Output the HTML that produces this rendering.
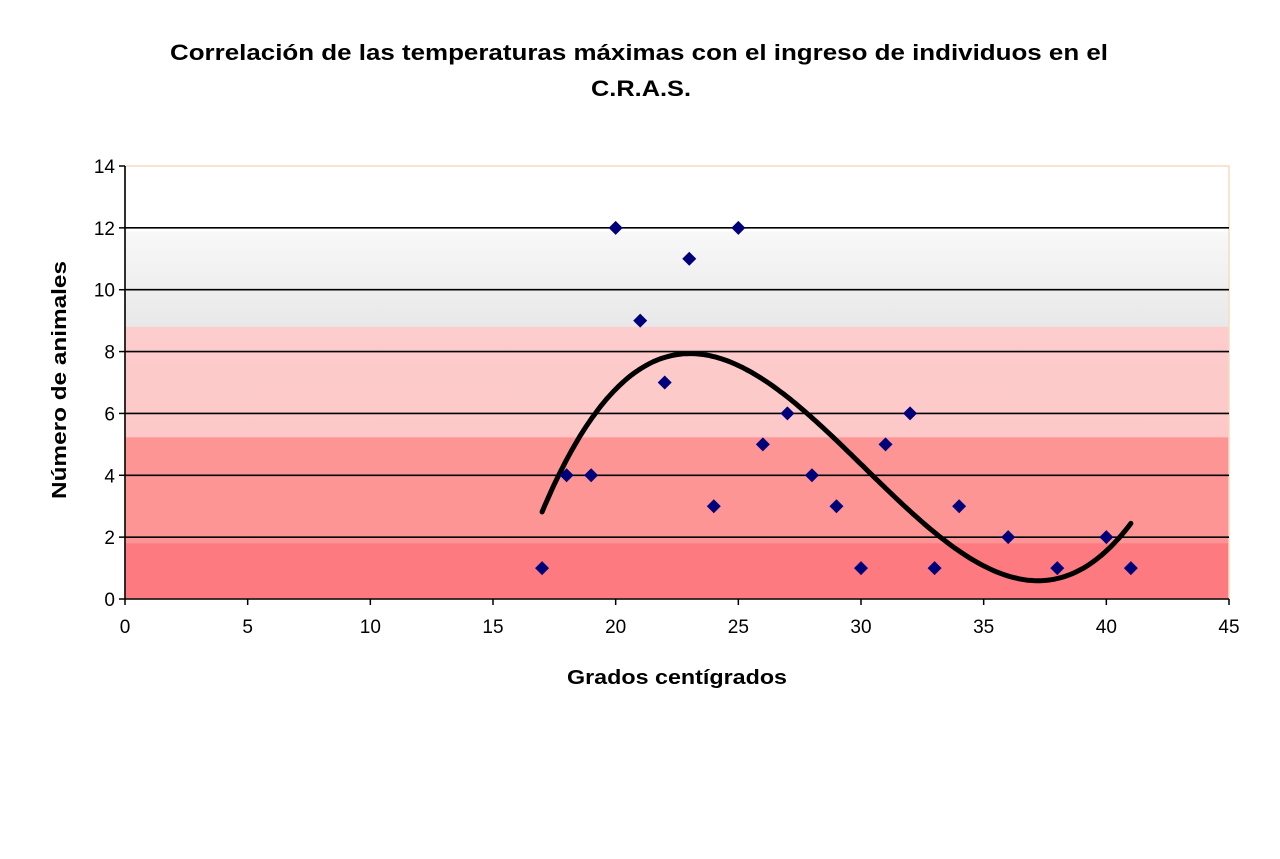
<!DOCTYPE html>
<html><head><meta charset="utf-8"><style>
body{margin:0;background:#fff;width:1280px;height:854px;overflow:hidden}
text{font-family:"Liberation Sans",sans-serif}
</style></head><body>
<svg id="chart" width="1280" height="854" xmlns="http://www.w3.org/2000/svg">
<defs><linearGradient id="bg" x1="0" y1="0" x2="0" y2="1">
<stop offset="0" stop-color="#ffffff"/><stop offset="0.15" stop-color="#ffffff"/>
<stop offset="0.153" stop-color="#f8f8f8"/><stop offset="0.37" stop-color="#e8e8e8"/>
<stop offset="0.373" stop-color="#fdcccc"/><stop offset="0.625" stop-color="#fdc8c8"/>
<stop offset="0.628" stop-color="#fd9595"/><stop offset="0.87" stop-color="#fd9595"/>
<stop offset="0.873" stop-color="#fc7a80"/><stop offset="1" stop-color="#fc7a80"/>
</linearGradient></defs>
<text x="170" y="60" textLength="938" lengthAdjust="spacingAndGlyphs" font-size="22" font-weight="bold">Correlación de las temperaturas máximas con el ingreso de individuos en el</text>
<text x="591" y="96" textLength="100" lengthAdjust="spacingAndGlyphs" font-size="22" font-weight="bold">C.R.A.S.</text>
<rect x="125" y="166" width="1104" height="433" fill="url(#bg)" stroke="#f5dcc0" stroke-width="1.5"/>
<g id="grid"></g><g id="axes"></g><g id="trend"></g><g id="points"></g>
<text x="567" y="684" textLength="220" lengthAdjust="spacingAndGlyphs" font-size="20" font-weight="bold">Grados centígrados</text>
<text transform="translate(66,380) rotate(-90)" text-anchor="middle" textLength="238" lengthAdjust="spacingAndGlyphs" font-size="20" font-weight="bold">Número de animales</text>
</svg>
<script>
const temps=[17,18,19,20,21,22,23,24,25,26,27,28,29,30,31,32,33,34,36,38,40,41];
const counts=[1,4,4,12,9,7,11,3,12,5,6,4,3,1,5,6,1,3,2,1,2,1];
const xTicks=[0,5,10,15,20,25,30,35,40,45];
const yTicks=[0,2,4,6,8,10,12,14];
const X0=125,X1=1229,Y0=599,Y1=166,XMAX=45,YMAX=14;
const sx=v=>X0+(X1-X0)*v/XMAX, sy=v=>Y0-(Y0-Y1)*v/YMAX;
const NS="http://www.w3.org/2000/svg";
function mk(t,a,p){const e=document.createElementNS(NS,t);for(const k in a)e.setAttribute(k,a[k]);p.appendChild(e);return e;}
const grid=document.getElementById('grid'),axes=document.getElementById('axes');
yTicks.forEach(v=>{
 if(v>0&&v<YMAX){const l=mk('line',{x1:X0,x2:X1,y1:sy(v),y2:sy(v),stroke:'#000','stroke-width':1.6},grid);
 }
 const tk=mk('line',{x1:X0-6,x2:X0,y1:sy(v),y2:sy(v),stroke:'#000','stroke-width':1.5},axes);
 
 const t=mk('text',{x:X0-10,y:sy(v)+7,'text-anchor':'end','font-size':19},axes);t.textContent=v;
 
});
xTicks.forEach(v=>{
 const tk=mk('line',{x1:sx(v),x2:sx(v),y1:Y0,y2:Y0+6,stroke:'#000','stroke-width':1.5},axes);
 
 const t=mk('text',{x:sx(v),y:Y0+34,'text-anchor':'middle','font-size':19},axes);t.textContent=v;
 
});
const ya=mk('line',{x1:X0,x2:X0,y1:Y1,y2:Y0,stroke:'#000','stroke-width':1.6},axes);

const xa=mk('line',{x1:X0,x2:X1,y1:Y0,y2:Y0,stroke:'#000','stroke-width':1.6},axes);

const n=4,A=[],B=[];
for(let i=0;i<n;i++){A.push([]);for(let j=0;j<n;j++){let s=0;temps.forEach(x=>s+=Math.pow(x,i+j));A[i].push(s);}let s=0;temps.forEach((x,k)=>s+=Math.pow(x,i)*counts[k]);B.push(s);}
for(let i=0;i<n;i++){let p=i;for(let r=i+1;r<n;r++)if(Math.abs(A[r][i])>Math.abs(A[p][i]))p=r;[A[i],A[p]]=[A[p],A[i]];[B[i],B[p]]=[B[p],B[i]];
 for(let r=0;r<n;r++){if(r===i)continue;const f=A[r][i]/A[i][i];for(let c=i;c<n;c++)A[r][c]-=f*A[i][c];B[r]-=f*B[i];}}
const co=B.map((b,i)=>b/A[i][i]);
const f=x=>co[0]+co[1]*x+co[2]*x*x+co[3]*x*x*x;
const xmin=Math.min(...temps),xmax=Math.max(...temps);let d='';
for(let i=0;i<=200;i++){const x=xmin+(xmax-xmin)*i/200;d+=(i?'L':'M')+sx(x).toFixed(1)+','+sy(f(x)).toFixed(1);}
const tr=mk('path',{d:d,fill:'none',stroke:'#000','stroke-width':5,'stroke-linecap':'round'},document.getElementById('trend'));

const pg=document.getElementById('points');
temps.forEach((x,i)=>{const cx=sx(x),cy=sy(counts[i]),r=7;
 const p=mk('polygon',{points:`${cx},${cy-r} ${cx+r},${cy} ${cx},${cy+r} ${cx-r},${cy}`,fill:'#00007a'},pg);
 });
</script>
</body></html>
